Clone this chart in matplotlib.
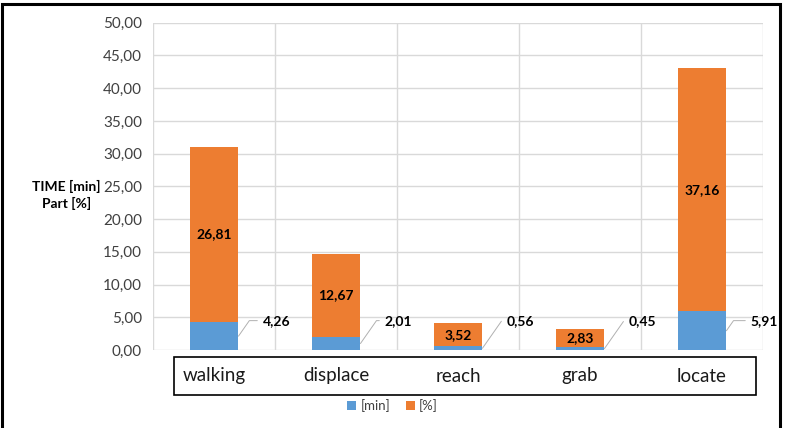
import matplotlib
matplotlib.use("Agg")
import matplotlib.pyplot as plt
from matplotlib.patches import Rectangle
from matplotlib.ticker import FuncFormatter, MultipleLocator
from matplotlib.transforms import blended_transform_factory
import numpy as np

plt.rcParams["font.family"] = ["Lato", "DejaVu Sans"]

categories = ["walking", "displace", "reach", "grab", "locate"]
time_min = [4.26, 2.01, 0.56, 0.45, 5.91]
part_pct = [26.81, 12.67, 3.52, 2.83, 37.16]
series_names = ["[min]", "[%]"]

BLUE = "#5B9BD5"
ORANGE = "#ED7D31"
GRID = "#D9D9D9"


def comma(v, _pos=None, nd=2):
    return f"{v:.{nd}f}".replace(".", ",")


fig = plt.figure(figsize=(7.85, 4.28), dpi=100)
ax = fig.add_axes([0.195, 0.182, 0.777, 0.765])

x = np.arange(len(categories))
w = 0.4
ax.bar(x, time_min, w, color=BLUE, label=series_names[0], zorder=3)
ax.bar(x, part_pct, w, bottom=time_min, color=ORANGE, label=series_names[1], zorder=3)

ax.set_xlim(-0.5, len(categories) - 0.5)
ax.set_ylim(0, 50)
ax.yaxis.set_major_locator(MultipleLocator(5))
ax.yaxis.set_major_formatter(FuncFormatter(comma))
ax.xaxis.set_major_locator(MultipleLocator(1, offset=0.5))
ax.set_xticklabels([])
ax.grid(True, color=GRID, lw=1.0, zorder=0)
ax.tick_params(length=0, labelsize=11, labelcolor="#404040", pad=8)
for s in ax.spines.values():
    s.set_visible(False)

# orange labels, centered in segment
for xi, m, p in zip(x, time_min, part_pct):
    ax.text(xi, m + p / 2, comma(p), ha="center", va="center",
            fontsize=10, fontweight="bold", color="black", zorder=4)

# blue labels with leader lines
for xi, m in zip(x, time_min):
    ax.annotate(comma(m), xy=(xi + w / 2, m / 2), xytext=(xi + w / 2 + 0.2, 4.5),
                ha="left", va="center", fontsize=10, fontweight="bold", color="black",
                arrowprops=dict(arrowstyle="-", color="#B0B0B0", lw=0.7,
                                connectionstyle="angle,angleA=0,angleB=55,rad=0",
                                shrinkA=2, shrinkB=0),
                zorder=4)

fig.text(0.085, 0.545, "TIME [min]\nPart [%]", ha="center", va="center",
         fontsize=10, fontweight="bold", linespacing=1.4)

# category label box
box_l, box_r = 174 / 785, 756 / 785
box_b, box_t = 1 - 395 / 428, 1 - 357 / 428
fig.add_artist(Rectangle((box_l, box_b), box_r - box_l, box_t - box_b,
                         transform=fig.transFigure, fill=False, ec="black", lw=1.2))
trans = blended_transform_factory(ax.transData, fig.transFigure)
for xi, c in zip(x, categories):
    ax.text(xi, (box_b + box_t) / 2, c, transform=trans, clip_on=False,
            ha="center", va="center", fontsize=13.5, color="#1a1a1a")

fig.legend(loc="center", bbox_to_anchor=(0.5, 0.052), ncol=2, frameon=False,
           fontsize=9.5, handlelength=0.7, handleheight=0.7, columnspacing=1.2,
           handletextpad=0.3, labelcolor="#404040")

# outer frame
fig.add_artist(Rectangle((0.003, -0.1), 0.991, 1.091, transform=fig.transFigure,
                         fill=False, ec="black", lw=2.2))

fig.savefig("out.png", dpi=100)
